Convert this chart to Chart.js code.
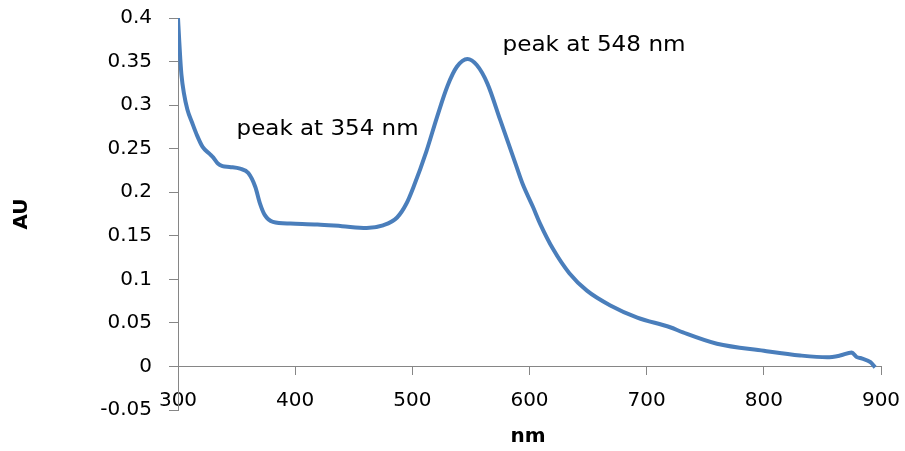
<!DOCTYPE html>
<html>
<head>
<meta charset="utf-8">
<script src="https://cdn.jsdelivr.net/npm/chart.js@4"></script>
<style>
  html, body { margin: 0; padding: 0; background: #fff; }
  #wrap { width: 905px; height: 451px; }
</style>
</head>
<body>
<div id="wrap"><canvas id="spectrum" width="905" height="451"></canvas></div>
<script>
// wavelength (nm) and absorbance (AU)
const wavelengths = [300, 301, 302, 303, 305, 308, 312, 316, 321, 327, 330, 334, 338, 344, 353, 360, 366, 370,
  374, 381, 396, 419, 440, 461, 475, 487, 495, 501, 512, 521, 530, 538, 547, 555, 564, 575, 589, 594, 603,
  609, 620, 634, 649, 669, 692, 720, 731, 760, 800, 831, 854, 865, 875, 879, 884, 891, 895];
const absorbance = [0.400, 0.375, 0.352, 0.334, 0.314, 0.295, 0.280, 0.266, 0.252, 0.244, 0.240, 0.233, 0.230,
  0.229, 0.227, 0.222, 0.206, 0.187, 0.174, 0.166, 0.164, 0.163, 0.161, 0.159, 0.162, 0.171, 0.187, 0.206,
  0.247, 0.286, 0.322, 0.344, 0.353, 0.346, 0.325, 0.283, 0.229, 0.210, 0.183, 0.164, 0.135, 0.107, 0.087,
  0.070, 0.056, 0.045, 0.039, 0.026, 0.018, 0.0126, 0.0105, 0.0125, 0.016, 0.011, 0.009, 0.005, -0.001];

const xTicks = [300, 400, 500, 600, 700, 800, 900];
const yTicks = [-0.05, 0, 0.05, 0.1, 0.15, 0.2, 0.25, 0.3, 0.35, 0.4];
const peakLabels = ["peak at 354 nm", "peak at 548 nm"];
const xTitle = "nm";
const yTitle = "AU";

const AXIS_GREY = "#868686";

// draws the two peak notes and the x title
const textPlugin = {
  id: "spectrumText",
  afterDraw(chart, args, opts) {
    const { ctx, scales: { x, y } } = chart;
    ctx.save();
    ctx.fillStyle = "#000";
    ctx.textBaseline = "alphabetic";
    ctx.font = '21px "DejaVu Sans"';
    opts.notes.forEach(n => {
      const w = ctx.measureText(n.text).width;
      ctx.save();
      ctx.translate(x.getPixelForValue(n.nm), y.getPixelForValue(n.au));
      ctx.scale(n.width / w, 1);
      ctx.fillText(n.text, 0, 0);
      ctx.restore();
    });
    ctx.font = 'bold 20px "DejaVu Sans"';
    ctx.textAlign = "center";
    ctx.textBaseline = "middle";
    ctx.fillText(xTitle, opts.xTitleAt[0], opts.xTitleAt[1]);
    ctx.restore();
  }
};

const ctx = document.getElementById("spectrum").getContext("2d");

new Chart(ctx, {
  type: "line",
  data: {
    datasets: [{
      label: "Absorbance",
      data: wavelengths.map((w, i) => ({ x: w, y: absorbance[i] })),
      borderColor: "#4A7EBB",
      borderWidth: 4,
      pointRadius: 0,
      fill: false,
      cubicInterpolationMode: "monotone"
    }]
  },
  options: {
    responsive: false,
    animation: false,
    devicePixelRatio: 1,
    layout: { padding: { left: 0, right: 24, top: 18, bottom: 41 } },
    plugins: {
      legend: { display: false },
      tooltip: { enabled: false },
      spectrumText: {
        notes: [
          { text: peakLabels[0], nm: 350, au: 0.2655, width: 182 },
          { text: peakLabels[1], nm: 577, au: 0.362, width: 183 }
        ],
        xTitleAt: [528, 437]
      }
    },
    scales: {
      x: {
        type: "linear",
        position: { y: 0 },
        min: 300,
        max: 900,
        afterBuildTicks: s => { s.ticks = xTicks.map(v => ({ value: v })); },
        afterFit: s => { s.paddingLeft = 0; s.paddingRight = 0; },
        ticks: {
          color: "#000",
          font: { family: "DejaVu Sans", size: 20 },
          padding: 14,
          maxRotation: 0,
          callback: v => String(v)
        },
        grid: { drawOnChartArea: false, drawTicks: true, tickLength: 8, color: AXIS_GREY },
        border: { color: AXIS_GREY, width: 1 }
      },
      y: {
        min: -0.05,
        max: 0.4,
        afterBuildTicks: s => { s.ticks = yTicks.map(v => ({ value: v })); },
        afterFit: s => { s.width = 178; s.paddingTop = 0; s.paddingBottom = 0; },
        ticks: {
          color: "#000",
          font: { family: "DejaVu Sans", size: 20 },
          padding: 17,
          callback: v => String(Number(v.toFixed(2)))
        },
        grid: { drawOnChartArea: false, drawTicks: true, tickLength: 9, color: AXIS_GREY },
        border: { color: AXIS_GREY, width: 1 },
        title: {
          display: true,
          text: yTitle,
          color: "#000",
          font: { family: "DejaVu Sans", size: 20, weight: "bold" },
          padding: { top: 10, bottom: 0 }
        }
      }
    }
  },
  plugins: [textPlugin]
});
</script>
</body>
</html>
